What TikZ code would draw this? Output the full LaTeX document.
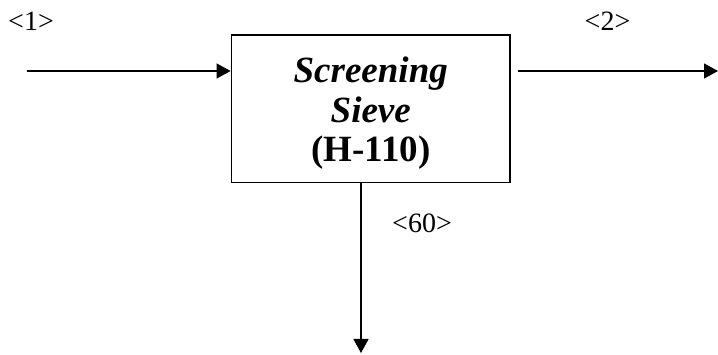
\documentclass[tikz,border=0pt]{standalone}
\usepackage{fontspec}
\setmainfont{Liberation Serif}
\usetikzlibrary{arrows.meta}
\begin{document}
\begin{tikzpicture}[x=1pt,y=-1pt,
  unitbox/.style={draw, line width=1.8pt, minimum width=278.5pt, minimum height=147.5pt,
    inner sep=0pt},
  unittext/.style={align=center, inner sep=0pt, font=\fontsize{37}{39.5}\selectfont},
  flow/.style={line width=1.2pt, -{Triangle[length=14pt,width=15pt]}},
  streamlabel/.style={inner sep=0pt, font=\fontsize{28}{32}\selectfont}]
  \useasboundingbox (0,0) rectangle (718,355);

  % process unit and its name
  \node[unitbox] (sieve) at (370.75,108.75) {};
  \node[unittext] (sievename) at ([yshift=-4.5pt]sieve.center)
    {\textbf{\textit{Screening}}\\ \textbf{\textit{Sieve}}\\ \textbf{(H-110)}};

  % stream end points
  \coordinate (feed) at (26.7,71);
  \coordinate (product) at (718,71);
  \coordinate (reject) at (361,353);
  \path (sieve.east |- product) coordinate (eastout);
  \path (sieve.south -| reject) coordinate (southout);

  % streams
  \draw[flow] (feed) -- (feed -| sieve.west);
  \draw[flow] ([xshift=6.7pt]eastout) -- (product);
  \draw[flow] (southout) -- (reject);

  % stream numbers
  \node[streamlabel] (l1) at (31,21) {<1>};
  \node[streamlabel] (l2) at (607.5,21) {<2>};
  \node[streamlabel] (l60) at (422,223.5) {<60>};
\end{tikzpicture}
\end{document}
